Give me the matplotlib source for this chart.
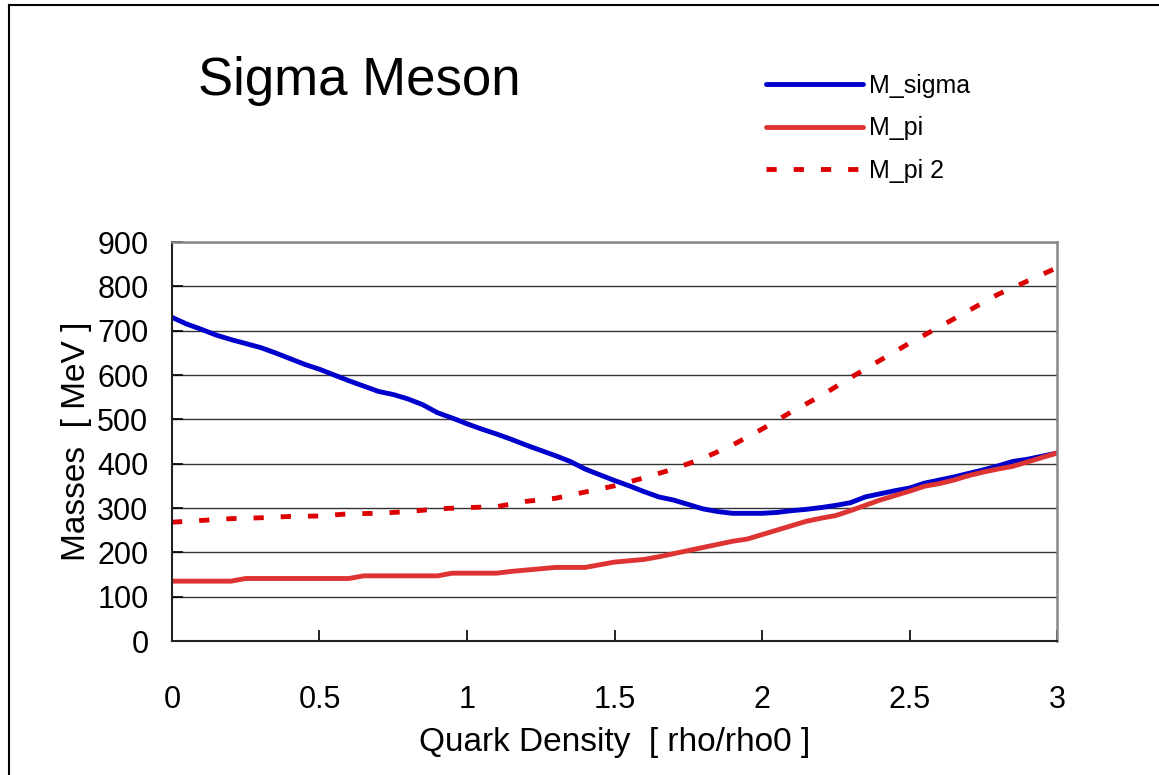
import matplotlib
matplotlib.use("Agg")
import matplotlib.pyplot as plt
import numpy as np
from matplotlib.lines import Line2D

plt.rcParams['font.family'] = ['Liberation Sans', 'DejaVu Sans']

# density grid (rho/rho0)
x_fine = np.round(np.arange(0, 3.0001, 0.05), 2)
x_coarse = np.round(np.arange(0, 3.0001, 0.1), 2)

m_sigma = [730, 715, 703, 690, 680, 671, 662, 650, 637, 624,
           613, 600, 587, 575, 563, 556, 546, 533, 515, 503,
           490, 478, 467, 455, 442, 430, 418, 405, 388, 375,
           362, 350, 337, 325, 318, 308, 298, 292, 288, 288,
           288, 290, 294, 297, 301, 306, 312, 325, 332, 339,
           345, 356, 363, 370, 378, 386, 395, 405, 410, 417,
           424]

m_pi = [135, 135, 135, 135, 135, 141, 141, 141, 141, 141,
        141, 141, 141, 147, 147, 147, 147, 147, 147, 153,
        153, 153, 153, 157, 160, 163, 166, 166, 166, 172,
        178, 181, 184, 190, 197, 204, 211, 218, 225, 230,
        240, 250, 260, 270, 277, 283, 294, 306, 318, 328,
        338, 349, 355, 363, 373, 381, 388, 394, 404, 414,
        424]

m_pi2 = [268, 272, 276, 278, 281, 282, 287, 288, 292, 298,
         301, 303, 315, 322, 336, 350, 368, 388, 412, 442,
         478, 517, 553, 594, 633, 672, 708, 745, 782, 812,
         842]

xticks = [0, 0.5, 1, 1.5, 2, 2.5, 3]
yticks = [0, 100, 200, 300, 400, 500, 600, 700, 800, 900]

fig = plt.figure(figsize=(11.59, 7.75), dpi=100)
ax = fig.add_axes([0.1484, 0.1729, 0.7636, 0.5148])

ax.yaxis.grid(True, color='#333333', linewidth=1.0)
ax.set_axisbelow(True)

ax.plot(x_fine, m_sigma, color='#0000CC', lw=3.5, label='M_sigma', solid_capstyle='round')
ax.plot(x_fine, m_pi, color='#DD3333', lw=3.5, label='M_pi', solid_capstyle='round')
ax.plot(x_coarse, m_pi2, color='#DD0000', lw=3.5, dashes=(2.1, 3.5), label='M_pi 2')

ax.set_xlim(0, 3)
ax.set_ylim(0, 900)
ax.set_xticks(xticks)
ax.set_xticklabels([str(t) for t in xticks])
ax.set_yticks(yticks)
ax.tick_params(axis='both', direction='in', length=8, width=1.2, labelsize=22)
ax.tick_params(axis='x', pad=32)
ax.tick_params(axis='y', pad=17)

for s in ['left', 'bottom']:
    ax.spines[s].set_color('#222222')
    ax.spines[s].set_linewidth(1.5)
for s in ['top', 'right']:
    ax.spines[s].set_color('#888888')
    ax.spines[s].set_linewidth(1.8)

ax.set_xlabel('Quark Density  [ rho/rho0 ]', fontsize=24, labelpad=8)
ax.set_ylabel('Masses  [ MeV ]', fontsize=24, labelpad=4)

fig.text(0.171, 0.877, 'Sigma Meson', fontsize=38, ha='left', va='baseline')

ax.legend(loc='upper left', bbox_to_anchor=(0.652, 0.918), bbox_transform=fig.transFigure,
          frameon=False, fontsize=18, handlelength=3.9, handletextpad=0.25,
          labelspacing=0.75, borderaxespad=0)

# outer frame (only top and left edges visible)
fig.add_artist(Line2D([0.0075, 0.0075], [0, 0.9935], transform=fig.transFigure, color='black', lw=1.5))
fig.add_artist(Line2D([0.0075, 1.0], [0.9935, 0.9935], transform=fig.transFigure, color='black', lw=1.5))

fig.savefig('out.png', dpi=100)
